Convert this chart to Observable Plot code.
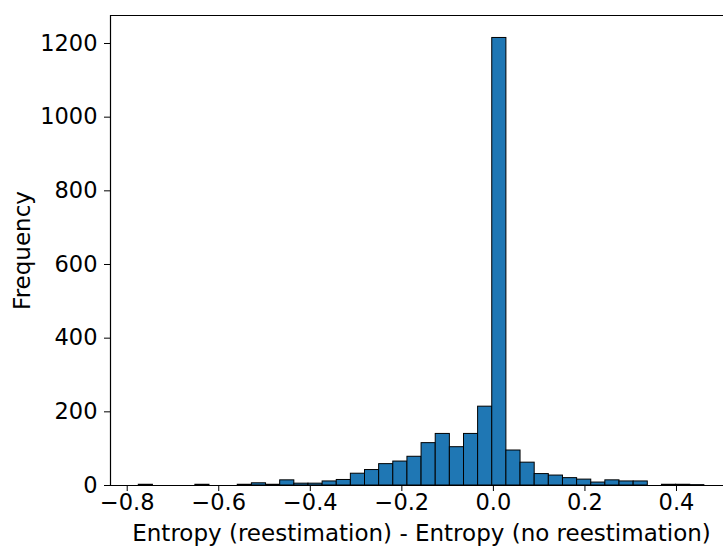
<!DOCTYPE html>
<html>
<head>
<meta charset="utf-8">
<script src="https://cdn.jsdelivr.net/npm/d3@7"></script>
<script src="https://cdn.jsdelivr.net/npm/@observablehq/plot@0.6"></script>
<style>
  html, body { margin: 0; padding: 0; background: #fff; }
  #chart svg { display: block; }
</style>
</head>
<body>
<div id="chart"></div>
<script>
// Histogram bin edges (41 edges -> 40 bins)
const binEdges = [
  -0.7747, -0.7438, -0.7129, -0.6820, -0.6511, -0.6202, -0.5894, -0.5585,
  -0.5276, -0.4967, -0.4658, -0.4349, -0.4040, -0.3731, -0.3422, -0.3114,
  -0.2805, -0.2496, -0.2187, -0.1878, -0.1569, -0.1260, -0.0951, -0.0642,
  -0.0334, -0.0025, 0.0284, 0.0593, 0.0902, 0.1211, 0.1520, 0.1829,
  0.2138, 0.2446, 0.2755, 0.3064, 0.3373, 0.3682, 0.3991, 0.4300, 0.4609
];
// Frequency in each bin
const counts = [
  2, 0, 0, 0, 2, 0, 0, 2,
  6, 2, 14, 5, 5, 11, 15, 32,
  42, 58, 65, 78, 115, 140, 104, 140,
  214, 1215, 95, 62, 31, 27, 20, 16,
  8, 14, 11, 11, 0, 2, 2, 1
];
const xTicks = [-0.8, -0.6, -0.4, -0.2, 0.0, 0.2, 0.4];
const yTicks = [0, 200, 400, 600, 800, 1000, 1200];
const xDomain = [-0.8365, 0.5027];
const yDomain = [0, 1276];
const xLabel = "Entropy (reestimation) - Entropy (no reestimation)";
const yLabel = "Frequency";

const bins = counts.map((c, i) => ({x1: binEdges[i], x2: binEdges[i + 1], y: c}));

const tickFont = 22.5;
const labelFont = 23;
const chart = Plot.plot({
  width: 723,
  height: 547,
  marginLeft: 110,
  marginRight: 0,
  marginTop: 15,
  marginBottom: 62,
  style: {fontFamily: "DejaVu Sans", fontSize: tickFont + "px", color: "#000", background: "#fff"},
  x: {domain: xDomain},
  y: {domain: yDomain},
  marks: [
    Plot.rectY(bins, {x1: "x1", x2: "x2", y: "y", fill: "#1f77b4", stroke: "#000", strokeWidth: 1, inset: 0}),
    Plot.ruleX([xDomain[0]], {stroke: "#000", strokeWidth: 1.2}),
    Plot.ruleY([yDomain[0]], {stroke: "#000", strokeWidth: 1.2}),
    Plot.ruleY([yDomain[1]], {stroke: "#000", strokeWidth: 1.2}),
    Plot.axisX({ticks: xTicks, tickFormat: d3.format(".1f"), tickSize: 6, tickPadding: 3, fontSize: tickFont, label: null}),
    Plot.axisY({ticks: yTicks, tickFormat: d3.format("d"), tickSize: 6, tickPadding: 7, fontSize: tickFont, label: null}),
    Plot.text([xLabel], {frameAnchor: "bottom", textAnchor: "middle", dx: 4.5, dy: 48, lineAnchor: "middle", fontSize: labelFont, fill: "#000"}),
    Plot.text([yLabel], {frameAnchor: "left", textAnchor: "middle", dx: -88, rotate: -90, lineAnchor: "middle", fontSize: labelFont, fill: "#000"})
  ]
});
document.getElementById("chart").appendChild(chart);
</script>
</body>
</html>
